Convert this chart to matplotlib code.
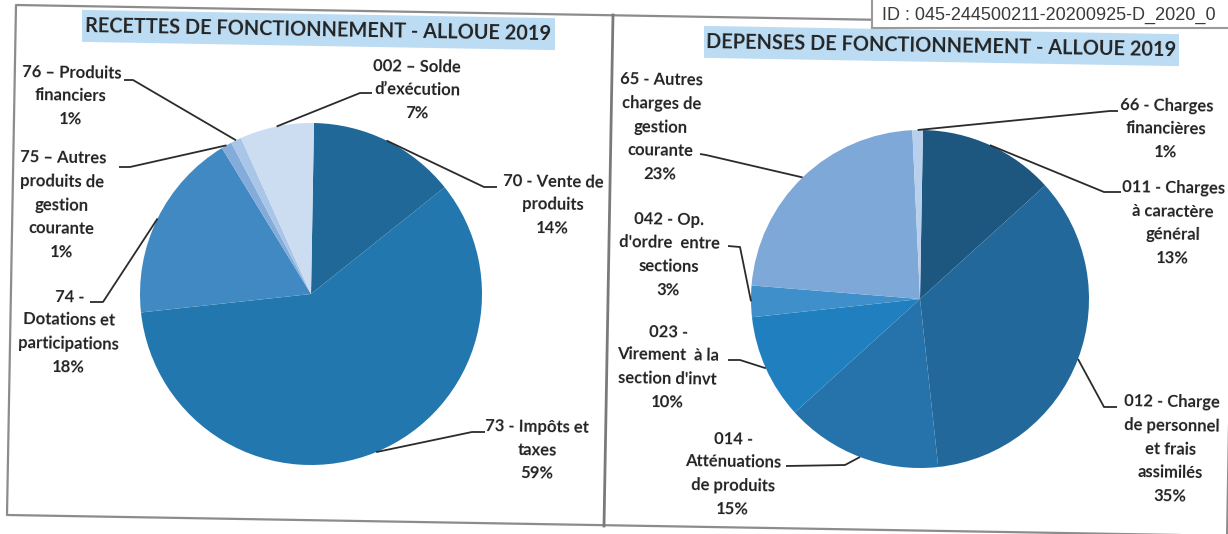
import matplotlib
matplotlib.use("Agg")
import matplotlib.pyplot as plt
from matplotlib.patches import Polygon, Rectangle
import numpy as np

# Recettes de fonctionnement (pie on the left)
rec_names = ["70 - Vente de\nproduits", "73 - Impôts et\ntaxes",
             "74 -\nDotations et\nparticipations",
             "75 – Autres\nproduits de\ngestion\ncourante",
             "76 – Produits\nfinanciers", "002 – Solde\nd’exécution"]
rec_values = [14, 59, 18, 1, 1, 7]
rec_colors = ["#1f6898", "#2277ae", "#4189c2", "#84acda", "#a9c5e7", "#ccdcf1"]

# Dépenses de fonctionnement (pie on the right)
dep_names = ["011 - Charges\nà caractère\ngénéral",
             "012 - Charge\nde personnel\net frais\nassimilés",
             "014 -\nAtténuations\nde produits",
             "023 -\nVirement  à la\nsection d'invt",
             "042 - Op.\nd'ordre  entre\nsections",
             "65 - Autres\ncharges de\ngestion\ncourante",
             "66 - Charges\nfinancières"]
dep_values = [13, 35, 15, 10, 3, 23, 1]
dep_colors = ["#1d5780", "#23689a", "#2573aa", "#2080bf", "#3f8fca", "#7da8d7", "#b9d0ec"]

titles = ["RECETTES DE FONCTIONNEMENT - ALLOUE 2019",
          "DEPENSES DE FONCTIONNEMENT - ALLOUE 2019"]
stamp = "ID : 045-244500211-20200925-D_2020_0"

# label block centre, leader elbow, leader tail (pixel coords, y down)
rec_layout = [((553, 205), (484, 187), (497, 187)),
              ((537, 450), (472, 432), (485, 432)),
              ((69, 332), (103, 302), (90, 302)),
              ((62, 205), (130, 167), (119, 167)),
              ((71, 96), (133, 80), (124, 80)),
              ((417, 90), (360, 93), (372, 93))]
dep_layout = [((1173, 223), (1104, 192), (1121, 192)),
              ((1171, 449), (1104, 407), (1117, 407)),
              ((733, 474), (845, 465), (786, 466)),
              ((668, 367), (740, 360), (728, 360)),
              ((669, 255), (740, 247), (728, 246)),
              ((661, 127), (706, 155), (700, 154)),
              ((1166, 129), (1110, 111), (1118, 111))]

TILT = 1.0          # scan is turned ~1 degree clockwise
TXT = "#232323"
FONT = "Lato"

fig = plt.figure(figsize=(12.28, 5.34), dpi=100)
ax = fig.add_axes([0, 0, 1, 1])


def draw_pie(values, colors, names, layout, center, radius):
    wedges, _ = ax.pie(values, colors=colors, center=center, radius=radius,
                       startangle=-90 + TILT, counterclock=True, frame=True,
                       wedgeprops=dict(linewidth=0))
    total = sum(values)
    for w, v, name, (tpos, elbow, tail) in zip(wedges, values, names, layout):
        mid = np.deg2rad((w.theta1 + w.theta2) / 2)
        px = center[0] + radius * np.cos(mid)
        py = center[1] + radius * np.sin(mid)
        ax.plot([px, elbow[0], tail[0]], [py, elbow[1], tail[1]],
                color="#2b2b2b", lw=1.3, solid_capstyle="butt", zorder=3)
        ax.text(tpos[0], tpos[1], f"{name}\n{round(100 * v / total)}%",
                ha="center", va="center", multialignment="center",
                rotation=-TILT, rotation_mode="anchor",
                fontsize=12, fontweight="bold", family=FONT,
                color=TXT, linespacing=1.57, zorder=4)


draw_pie(rec_values, rec_colors, rec_names, rec_layout, (311, 294), 171)
draw_pie(dep_values, dep_colors, dep_names, dep_layout, (920, 299), 169)

ax.set_xlim(0, 1228)
ax.set_ylim(534, 0)
ax.axis("off")

# scanned frame and divider
frame = dict(color="#8c8c8c", lw=1.6, zorder=1)
ax.plot([1236, 16, 7, 1238], [26, 5, 515, 536], **frame)
ax.plot([1227, 1236], [540, 26], **frame)
ax.plot([613, 604], [15, 526], color="#7a7a7a", lw=2.0, zorder=1)

# title bands
for (x0, x1, yc), title in zip([(82, 555, 30), (704, 1179, 46)], titles):
    h = 16
    dy = (x1 - x0) * np.tan(np.deg2rad(TILT)) / 2
    box = Polygon([(x0, yc - h - dy), (x1, yc - h + dy),
                   (x1, yc + h + dy), (x0, yc + h - dy)],
                  closed=True, facecolor="#bcdcf4", edgecolor="none", zorder=2)
    ax.add_patch(box)
    ax.text((x0 + x1) / 2, yc, title, ha="center", va="center",
            rotation=-TILT, rotation_mode="anchor",
            fontsize=14.3, fontweight="bold", family=FONT, color=TXT, zorder=4)

# registration stamp, top right
ax.add_patch(Rectangle((872, -5), 400, 33, facecolor="white",
                       edgecolor="#9a9a9a", lw=1.5, zorder=5))
ax.text(882, 15, stamp, ha="left", va="center", fontsize=13.0,
        family="Liberation Sans", color="#3a3a3a", zorder=6)

fig.savefig("out.png", dpi=100)
